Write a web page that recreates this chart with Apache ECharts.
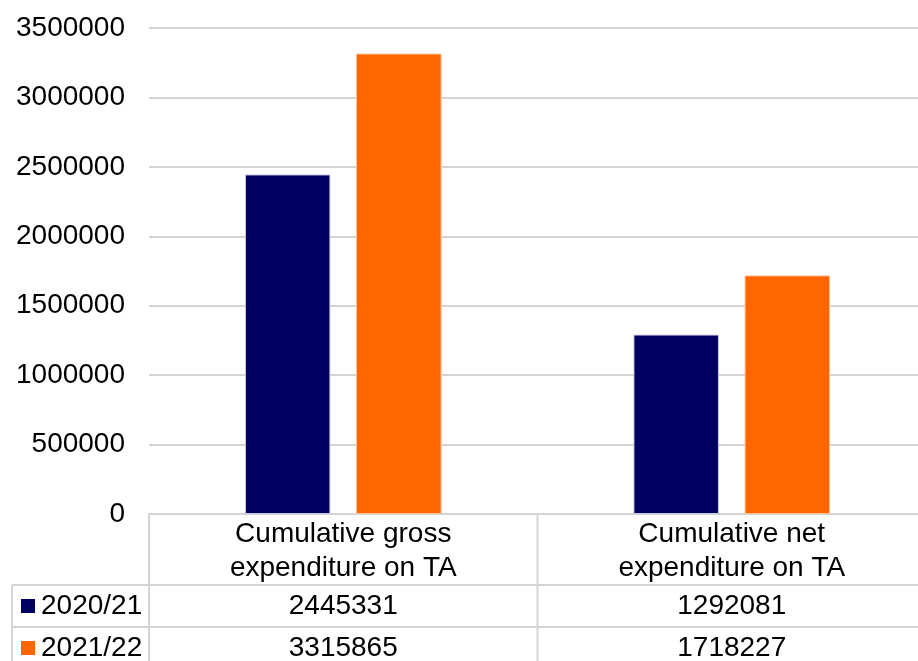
<!DOCTYPE html>
<html>
<head>
<meta charset="utf-8">
<script src="https://cdn.jsdelivr.net/npm/echarts@6/dist/echarts.min.js"></script>
<style>
  html, body { margin: 0; padding: 0; background: #fff; overflow: hidden; }
  /* plot runs slightly past the right edge of the window */
  #chart { width: 926px; height: 661px; }
</style>
</head>
<body>
<div id="chart"></div>
<script>
// Expenditure on TA, two periods, with a data table under the plot
const categories = ['Cumulative gross\nexpenditure on TA', 'Cumulative net\nexpenditure on TA'];
const seriesNames = ['2020/21', '2021/22'];
const values2020 = [2445331, 1292081];
const values2021 = [3315865, 1718227];
const seriesColors = ['#000060', '#FF6600'];

const FONT = '"Liberation Sans", Arial, sans-serif';
const FS = 28;
const LINE = '#d4d4d4';

const chart = echarts.init(document.getElementById('chart'), null, { renderer: 'canvas' });

const gridLeft = 149, gridTop = 28, gridRight = 0, gridBottom = 147;

chart.setOption({
  animation: false,
  backgroundColor: '#ffffff',
  grid: { left: gridLeft, top: gridTop, right: gridRight, bottom: gridBottom, containLabel: false },
  xAxis: {
    type: 'category',
    data: categories,
    axisTick: { show: false },
    axisLine: { show: true, lineStyle: { color: LINE, width: 2 } },
    axisLabel: {
      color: '#000', fontFamily: FONT, fontSize: FS, lineHeight: 34, margin: 3,
      interval: 0
    }
  },
  yAxis: {
    type: 'value',
    min: 0, max: 3500000, interval: 500000,
    axisLine: { show: false },
    axisTick: { show: false },
    axisLabel: {
      color: '#000', fontFamily: FONT, fontSize: FS, margin: 24,
      formatter: (v) => String(v)
    },
    splitLine: { lineStyle: { color: LINE, width: 2 } }
  },
  series: [
    {
      name: seriesNames[0], type: 'bar', data: values2020,
      barWidth: '22%', barGap: '30%',
      itemStyle: { color: seriesColors[0], borderColor: '#c8c8e0', borderWidth: 1 }
    },
    {
      name: seriesNames[1], type: 'bar', data: values2021,
      barWidth: '22%', barGap: '30%',
      itemStyle: { color: seriesColors[1], borderColor: '#ffc090', borderWidth: 1 }
    }
  ]
});

// Data table below the category axis
function buildTable() {
  const axisY = chart.convertToPixel({ yAxisIndex: 0 }, 0);
  const centers = categories.map((c, i) => chart.convertToPixel({ xAxisIndex: 0 }, i));
  const boundary = (centers[0] + centers[1]) / 2;
  const headerBottom = axisY + 71;
  const rowH = 42;
  const rows = [values2020, values2021];
  const right = 926;
  const els = [];
  const line = (x1, y1, x2, y2) => els.push({
    type: 'line', shape: { x1, y1, x2, y2 }, silent: true,
    style: { stroke: LINE, lineWidth: 2 }
  });
  line(gridLeft, axisY, gridLeft, 661);
  line(boundary, axisY, boundary, 661);
  line(12, headerBottom, 12, 661);
  line(12, headerBottom, right, headerBottom);
  line(12, headerBottom + rowH, right, headerBottom + rowH);
  rows.forEach((vals, r) => {
    const cy = headerBottom + rowH * r + rowH / 2;
    els.push({
      type: 'rect', silent: true,
      shape: { x: 21, y: cy - 7, width: 14, height: 14 },
      style: { fill: seriesColors[r] }
    });
    els.push({
      type: 'text', silent: true, x: 41, y: cy,
      style: { text: seriesNames[r], font: FS + 'px ' + FONT, fill: '#000', verticalAlign: 'middle', align: 'left' }
    });
    vals.forEach((v, i) => {
      els.push({
        type: 'text', silent: true, x: centers[i], y: cy,
        style: { text: String(v), font: FS + 'px ' + FONT, fill: '#000', verticalAlign: 'middle', align: 'center' }
      });
    });
  });
  chart.setOption({ graphic: els });
}
buildTable();
</script>
</body>
</html>
